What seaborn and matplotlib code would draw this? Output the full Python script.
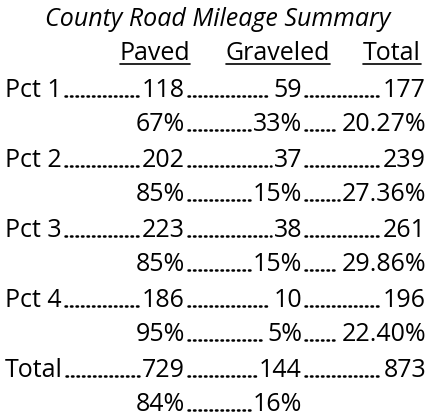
import matplotlib
matplotlib.use("Agg")
import matplotlib.pyplot as plt
import seaborn as sns

sns.set_theme(style="white")
plt.rcParams['font.family'] = ['Open Sans', 'DejaVu Sans']

title = "County Road Mileage Summary"
headers = ["Paved", "Graveled", "Total"]
row_names = ["Pct 1", "Pct 2", "Pct 3", "Pct 4", "Total"]
paved = ["118", "202", "223", "186", "729"]
graveled = ["59", "37", "38", "10", "144"]
total = ["177", "239", "261", "196", "873"]
paved_pct = ["67%", "85%", "85%", "95%", "84%"]
grav_pct = ["33%", "15%", "15%", "5%", "16%"]
total_pct = ["20.27%", "27.36%", "29.86%", "22.40%", ""]

fig = plt.figure(figsize=(4.36, 4.20), dpi=100)
ax = fig.add_axes([0, 0, 1, 1])
ax.set_xlim(0, 436); ax.set_ylim(420, 0); ax.axis("off")
fs = 18
fig.canvas.draw()
r = fig.canvas.get_renderer()
inv = ax.transData.inverted()

def put(x, y, s, ha="left", **kw):
    t = ax.text(x, y, s, ha=ha, va="baseline", fontsize=fs, color="black", **kw)
    bb = t.get_window_extent(r).transformed(inv)
    return min(bb.x0, bb.x1), max(bb.x0, bb.x1)

def dots(x0, x1, y):
    if x1 - x0 > 6:
        ax.plot([x0 + 3, x1 - 3], [y - 1, y - 1], linestyle=(0, (0.6, 1.6)), color="black",
                lw=1.8, solid_capstyle="round", dash_capstyle="round")

put(218, 26, title, ha="center", style="italic")
for h, (cx) in zip(headers, [155, 278, 392]):
    a, b = put(cx, 60, h, ha="center")
    ax.plot([a, b], [64, 64], color="black", lw=1.2)

cols = [185, 302, 426]
for i, name in enumerate(row_names):
    y = 97 + i * 70
    _, e = put(5, y, name)
    x = e
    for c, v in zip(cols, [paved[i], graveled[i], total[i]]):
        a, b = put(c, y, v, ha="right")
        dots(x, a, y); x = b
    y2 = y + 34
    x = None
    for c, v in zip(cols, [paved_pct[i], grav_pct[i], total_pct[i]]):
        if not v:
            continue
        a, b = put(c, y2, v, ha="right")
        if x is not None:
            dots(x, a, y2)
        x = b

fig.savefig("out.png", dpi=100)
